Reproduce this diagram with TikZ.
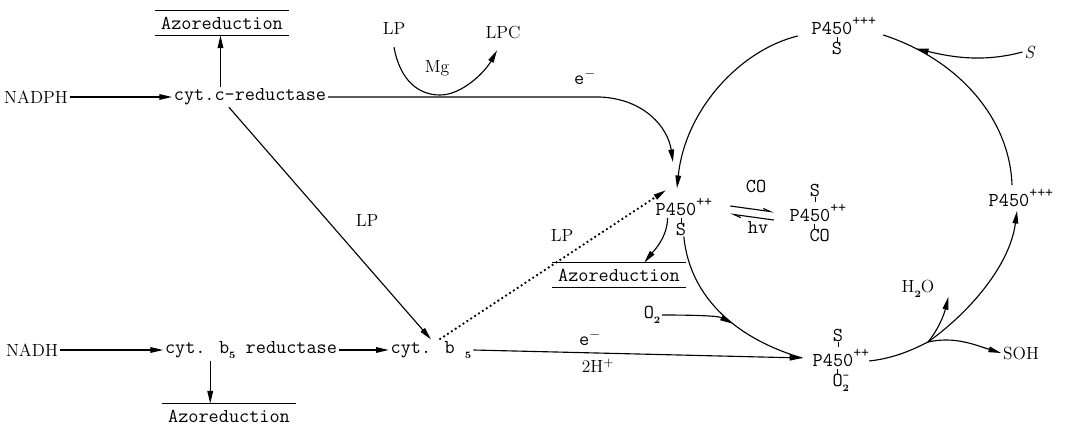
\documentclass[tikz,border=0pt]{standalone}
\usepackage{fontspec}
\usetikzlibrary{arrows.meta,positioning,calc}
\tikzset{
  txt/.style={font=\ttfamily\fontsize{14}{16}\selectfont, inner sep=1pt},
  rmtxt/.style={font=\rmfamily\fontsize{12.5}{14}\selectfont, inner sep=1pt},
  sml/.style={font=\ttfamily\fontsize{14}{16}\selectfont, inner sep=0pt},
  azo/.style={txt, inner xsep=4pt, inner ysep=4pt},
  tick/.style={line width=0.5pt},
  >={Triangle[length=9pt,width=4pt]}
}
\newcommand{\pfs}[1]{P450\rlap{\raisebox{1.1ex}{\fontsize{11}{11}\selectfont #1}}}
\newcommand{\lowsub}[1]{\raisebox{-0.6ex}{\rmfamily\fontsize{7}{7}\selectfont\bfseries #1}}
\begin{document}
\begin{tikzpicture}[x=0.025cm, y=-0.025cm, line width=0.8pt]
\useasboundingbox (0,0) rectangle (1074,428);
% left side
\node[azo] (azoA) at (222,23) {Azoreduction};
\node[rmtxt] (nadph) at (36,97) {NADPH};
\node[txt] (cytc) at (250,97) {cyt.c-reductase};
\node[rmtxt] (lpA) at (394,28) {LP};
\node[rmtxt] (lpc) at (503,32) {LPC};
\node[rmtxt] (mg) at (437,68) {Mg};
\node[txt] (eA) at (585,77) {e$^-$};
\node[rmtxt] (lpB) at (367,220) {LP};
\node[rmtxt] (nadh) at (32,350) {NADH};
\node[txt] (bred) at (251,350) {cyt. b\lowsub{5} reductase};
\node[txt] (cytb) at (431,350) {cyt. b \lowsub{5}};
\node[azo] (azoC) at (229,416) {Azoreduction};
\node[rmtxt] (lpC) at (562,235) {LP};
\node[txt] (eB) at (590,338) {e$^-$};
\node[rmtxt] (hh) at (598,366) {2H$^+$};
% cycle
\node[txt] (pL) at (676,207) {\pfs{++}};
\node[sml, anchor=north] (pLS) at ([shift={(5,5)}]pL.south) {S};
\node[azo] (azoB) at (619,275) {Azoreduction};
\node[txt] (co) at (756,186) {CO};
\node[txt] (hv) at (758,228) {hv};
\node[txt] (pC) at (810,213) {\pfs{++}};
\node[sml, anchor=south] (pCS) at ([shift={(5,-5)}]pC.north) {S};
\node[sml, anchor=north west] (pCO) at ([shift={(-1,5)}]pC.south) {CO};
\node[txt] (pT) at (832,26) {\pfs{+++}};
\node[sml, anchor=north] (pTS) at ([shift={(5,5)}]pT.south) {S};
\node[txt] (pR) at (1009,198) {\pfs{+++}};
\node[txt] (pB) at (833,358) {\pfs{++}};
\node[sml, anchor=south] (pBS) at ([shift={(5,-5)}]pB.north) {S};
\node[sml, anchor=north west] (pBO) at ([shift={(-1,5)}]pB.south) {O\rlap{\raisebox{0.8ex}{\fontsize{9}{9}\selectfont -}}\lowsub{2}};
\node[rmtxt] (sub) at (1030,52) {\textit{S}};
\node[rmtxt] (h2o) at (918,289) {H\lowsub{2}O};
\node[rmtxt] (soh) at (1021,353) {SOH};
\node[txt] (o2) at (652,315) {O\lowsub{2}};
\coordinate (jn) at (928,342);

\draw (azoA.north west) -- (azoA.north east) (azoA.south west) -- (azoA.south east);
\draw (azoB.north west) -- (azoB.north east) (azoB.south west) -- (azoB.south east);
\draw (azoC.north west) -- (azoC.north east);
\draw[tick] (pLS.north) -- ++(0,-5) (pCS.south) -- ++(0,5) (pTS.north) -- ++(0,-5)
  (pBS.south) -- ++(0,5) ([xshift=3.7pt]pCO.north west) -- ++(0,-5) ([xshift=3.7pt]pBO.north west) -- ++(0,-5);

\draw[->] (nadph) -- (cytc);
\draw[->] ([xshift=-21pt]cytc.north) -- ([xshift=-21pt]cytc.north |- azoA.south);
\draw[->] (cytc.east) -- (600,97) .. controls (645,99) and (668,128) .. ([shift={(-3,-34)}]pL.north);
\draw[->] ([yshift=-8pt]lpA.south) .. controls (400,80) and (418,95) .. (440,95)
  .. controls (462,95) and (485,72) .. ([shift={(-6,10)}]lpc.south);
\draw[->] ([xshift=-15pt]cytc.south) -- (cytb.north);
\draw[->] (nadh) -- (bred);
\draw[->] (bred) -- (cytb);
\draw[->] ([xshift=-29pt]bred.south) -- ([xshift=-29pt]bred.south |- azoC.north);
\draw[->, dotted, line width=1.3pt] ([xshift=6pt]cytb.north) -- ([shift={(-10,-6)}]pL.north);
\draw[->] ([xshift=-6pt]pL.south) .. controls +(0,20) and +(8,-10) .. ([xshift=18pt]azoB.north);
\draw[->] (cytb.east) -- ([xshift=-6pt]pB.west);
% CO exchange
\draw[-{Straight Barb[left,length=5pt,width=3pt]}] ([shift={(32,-1)}]pL.east) -- ([shift={(-14,-1)}]pC.west);
\draw[-{Straight Barb[left,length=5pt,width=3pt]}] ([shift={(-14,7)}]pC.west) -- ([shift={(32,7)}]pL.east);
% the cycle
\draw[->] ([shift={(-12,10)}]pT.west) .. controls (740,50) and (685,110) .. ([shift={(1,-8)}]pL.north);
\draw ([shift={(29,9)}]pT.east) .. controls (960,60) and (1010,120) .. coordinate[pos=0.15] (sIn) ([shift={(3,-2)}]pR.north);
\draw[->] (sub.west) .. controls (985,62) and (955,58) .. (sIn);
\draw ([xshift=2pt]pLS.south) .. controls (690,300) and (740,340) .. coordinate[pos=0.58] (oIn) ([xshift=-6pt]pB.west);
\draw[->] (o2.east) .. controls +(25,0) and +(-15,-8) .. (oIn);
\draw ([shift={(14,3)}]pB.east) .. controls (895,358) and (912,350) .. (jn);
\draw[->] (jn) .. controls (970,312) and (1010,265) .. ([shift={(8,2)}]pR.south);
\draw[->] (jn) .. controls (938,330) and (944,315) .. ([shift={(12,8)}]h2o.east);
\draw[->] (jn) .. controls (955,336) and (975,345) .. (soh.west);
\end{tikzpicture}
\end{document}
